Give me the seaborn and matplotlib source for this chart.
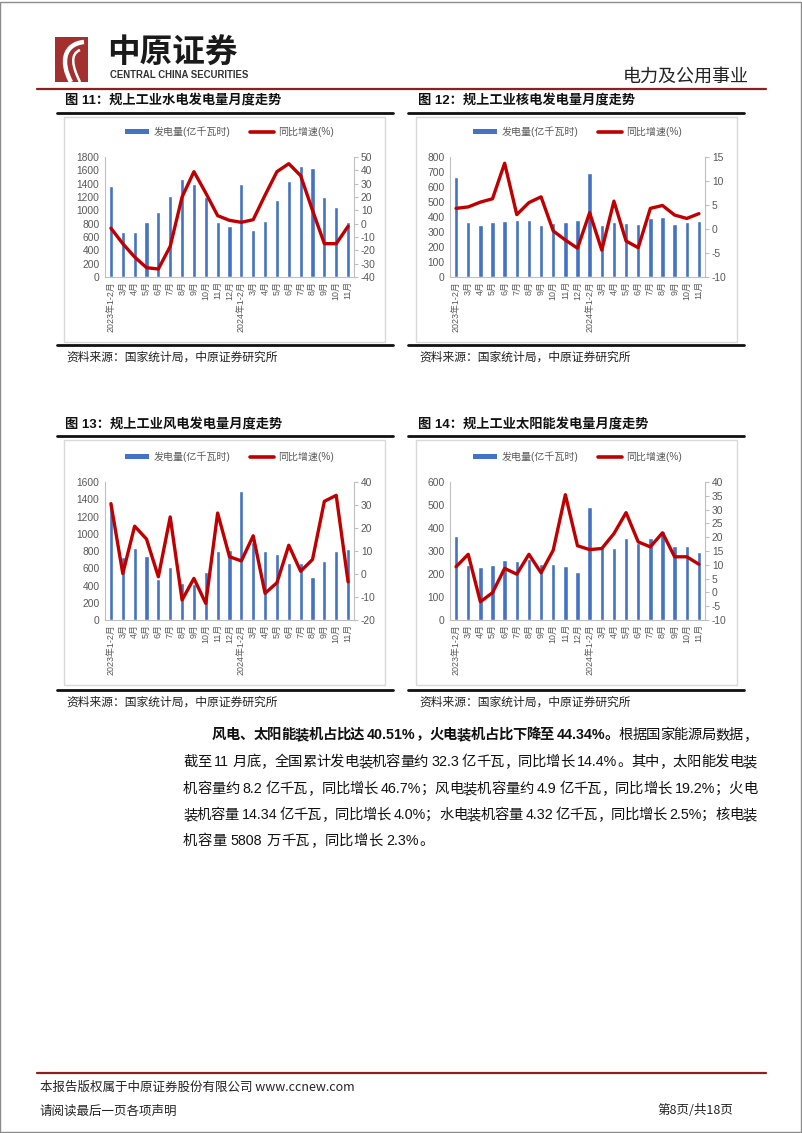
import numpy as np
import pandas as pd
import matplotlib
matplotlib.use("Agg")
import matplotlib.pyplot as plt
import seaborn as sns
from matplotlib.lines import Line2D
from matplotlib.patches import Rectangle, Patch, PathPatch
from matplotlib.path import Path

# ---------------- data ----------------
months = ["2023年1-2月", "3月", "4月", "5月", "6月", "7月", "8月", "9月", "10月", "11月", "12月",
          "2024年1-2月", "3月", "4月", "5月", "6月", "7月", "8月", "9月", "10月", "11月"]

hydro_gen = [1368, 681, 681, 821, 980, 1214, 1468, 1393, 1200, 831, 771,
             1388, 706, 836, 1149, 1438, 1667, 1637, 1199, 1050, 821]
hydro_yoy = [-3.4, -15, -25, -33, -34, -17, 20, 39, 23, 6, 2.5,
             1, 3, 21.4, 39, 45, 36, 10, -15, -15, -2]

nuclear_gen = [669, 365, 345, 367, 372, 378, 383, 345, 358, 365, 378,
               691, 349, 365, 358, 356, 394, 401, 356, 367, 376]
nuclear_yoy = [4.3, 4.6, 5.6, 6.3, 13.7, 3.0, 5.5, 6.7, -0.4, -2.3, -4.0,
               3.4, -4.4, 5.8, -2.5, -3.9, 4.3, 4.9, 2.9, 2.2, 3.2]

wind_gen = [1340, 725, 830, 741, 480, 610, 432, 420, 560, 799, 811,
            1498, 905, 803, 764, 664, 656, 502, 687, 795, 822]
wind_yoy = [30.6, 0.2, 20.8, 15.2, -1.2, 24.8, -11.3, -1.9, -12.8, 26.5, 7.5,
            5.7, 16.6, -8.4, -3.8, 12.5, 1.2, 6.3, 31.6, 34.2, -3.4]

solar_gen = [367, 241, 230, 238, 259, 257, 267, 243, 243, 233, 210,
             490, 318, 314, 358, 335, 358, 385, 322, 321, 296]
solar_yoy = [9.3, 13.8, -3.4, -0.1, 8.7, 6.6, 13.8, 7.1, 15.3, 35.4, 16.9,
             15.5, 15.9, 21.3, 28.9, 18.3, 16.5, 21.6, 12.9, 12.9, 10.2]

titles = ["图 11：规上工业水电发电量月度走势", "图 12：规上工业核电发电量月度走势",
          "图 13：规上工业风电发电量月度走势", "图 14：规上工业太阳能发电量月度走势"]
source_text = "资料来源：国家统计局，中原证券研究所"
legend_labels = ["发电量(亿千瓦时)", "同比增速(%)"]

para_lines = [
    [("风电、太阳能装机占比达 40.51%，火电装机占比下降至 44.34%。", "bold"), ("根据国家能源局数据，", "normal")],
    [("截至 11 月底，全国累计发电装机容量约 32.3 亿千瓦，同比增长 14.4%。其中，太阳能发电装", "normal")],
    [("机容量约 8.2 亿千瓦，同比增长 46.7%；风电装机容量约 4.9 亿千瓦，同比增长 19.2%；火电", "normal")],
    [("装机容量 14.34 亿千瓦，同比增长 4.0%；水电装机容量 4.32 亿千瓦，同比增长 2.5%；核电装", "normal")],
    [("机容量 5808 万千瓦，同比增长 2.3%。", "normal")],
]

# ---------------- style ----------------
sns.set_theme(style="white")
plt.rcParams["font.family"] = ["Liberation Sans", "Noto Sans CJK SC", "DejaVu Sans"]
plt.rcParams["axes.unicode_minus"] = False
BLUE = "#4472C4"
RED = "#C00000"
TICK = "#595959"
AXC = "#BFBFBF"
DARKRED = "#8E1F1F"

W, H = 802, 1133
fig = plt.figure(figsize=(W / 100, H / 100), dpi=100)


def fx(x):
    return x / W


def fy(y):
    return 1 - y / H


def hline(x0, x1, y, color, lw):
    fig.add_artist(Line2D([fx(x0), fx(x1)], [fy(y), fy(y)], color=color, lw=lw,
                          transform=fig.transFigure))


# page border
fig.add_artist(Rectangle((0.0005, 0.0005), 0.998, 0.998, fill=False, ec="#8c8c8c", lw=1.0,
                         transform=fig.transFigure))

# ---------------- header ----------------
fig.add_artist(Rectangle((fx(55), fy(82)), 33 / W, 45 / H, fc="#A3302E", ec="none",
                         transform=fig.transFigure))
verts = [(fx(84), fy(42)), (fx(64), fy(44)), (fx(60), fy(62)), (fx(71), fy(82))]
fig.add_artist(PathPatch(Path(verts, [Path.MOVETO, Path.CURVE4, Path.CURVE4, Path.CURVE4]),
                         fill=False, ec="white", lw=3.2, transform=fig.transFigure))
verts2 = [(fx(80), fy(50)), (fx(70), fy(54)), (fx(72), fy(66)), (fx(80), fy(82))]
fig.add_artist(PathPatch(Path(verts2, [Path.MOVETO, Path.CURVE4, Path.CURVE4, Path.CURVE4]),
                         fill=False, ec="white", lw=1.8, transform=fig.transFigure))

fig.text(fx(107), fy(52), "中原证券", fontsize=23.5, fontweight="heavy",
         family=["Noto Sans CJK SC"], color="#1a1a1a", va="center", ha="left")
fig.text(fx(110), fy(75.5), "CENTRAL CHINA SECURITIES", fontsize=6.9, fontweight="bold",
         family=["Liberation Sans"], color="#333333", va="center", ha="left")
fig.text(fx(749), fy(77), "电力及公用事业", fontsize=13, fontweight="light",
         family=["Noto Sans CJK SC"], color="#222222", va="center", ha="right")
hline(37, 766, 89, DARKRED, 1.6)


# ---------------- charts ----------------
def draw_chart(col, row, gen, yoy, lmax, lstep, rmin, rmax, rstep, title):
    bx0 = 64 if col == 0 else 416
    bx1 = 385 if col == 0 else 737
    lx0 = 57 if col == 0 else 408
    lx1 = 393 if col == 0 else 744
    tx = 65 if col == 0 else 418
    if row == 0:
        ty, tl, by0, by1, sl, sy = 101, 113, 117, 342, 345, 357
        py0, py1 = 157, 277
    else:
        ty, tl, by0, by1, sl, sy = 425, 436, 440, 685, 690, 702
        py0, py1 = 482, 620
    px0 = 105 if col == 0 else 450
    px1 = 354 if col == 0 else 705

    fig.text(fx(tx), fy(ty), title, fontsize=9.5, fontweight="bold", color="#111111",
             va="center", ha="left", family=["Liberation Sans", "Noto Sans CJK SC"])
    hline(lx0, lx1, tl, "#111111", 2.0)
    fig.add_artist(Rectangle((fx(bx0), fy(by1)), (bx1 - bx0) / W, (by1 - by0) / H, fill=False,
                             ec="#D9D9D9", lw=1.0, transform=fig.transFigure))
    hline(lx0, lx1, sl, "#111111", 2.0)
    fig.text(fx(tx + 1), fy(sy), source_text, fontsize=8.5, color="#222222", va="center",
             ha="left", family=["Noto Sans CJK SC"])

    ax = fig.add_axes([fx(px0), fy(py1), (px1 - px0) / W, (py1 - py0) / H])
    n = len(months)
    df = pd.DataFrame({"idx": np.arange(n), "gen": gen, "yoy": yoy})
    sns.barplot(data=df, x="idx", y="gen", ax=ax, color=BLUE, saturation=1, width=0.36,
                native_scale=True, errorbar=None)
    ax2 = ax.twinx()
    sns.lineplot(data=df, x="idx", y="yoy", ax=ax2, color=RED, lw=2.4, errorbar=None)

    for a in (ax, ax2):
        a.set_xlim(-0.5, n - 0.5)
        a.set_xlabel("")
        a.set_ylabel("")
        a.set_facecolor("none")
        for s in a.spines.values():
            s.set_visible(False)
    ax.set_ylim(0, lmax)
    ax.set_yticks(np.arange(0, lmax + 1, lstep))
    ax2.set_ylim(rmin, rmax)
    ax2.set_yticks(np.arange(rmin, rmax + 0.1, rstep))

    ax.spines["left"].set_visible(True)
    ax.spines["left"].set_color(AXC)
    ax.spines["bottom"].set_visible(True)
    ax.spines["bottom"].set_color(AXC)
    ax2.spines["right"].set_visible(True)
    ax2.spines["right"].set_color(AXC)
    for a in (ax, ax2):
        for s in a.spines.values():
            s.set_linewidth(0.8)

    ax.set_xticks(np.arange(n))
    ax.set_xticklabels(months, rotation=90, fontsize=6.4, color=TICK)
    ax.set_xticks(np.arange(-0.5, n), minor=True)
    ax.tick_params(axis="x", which="major", length=0, pad=3)
    ax.tick_params(axis="x", which="minor", length=3, color=AXC, width=0.8, direction="out")
    ax.tick_params(axis="y", which="major", length=0, labelsize=7.4, labelcolor=TICK, pad=4)
    ax2.tick_params(axis="y", which="major", length=3, color=AXC, width=0.8, direction="out",
                    labelsize=7.4, labelcolor=TICK, pad=2)
    ax.grid(False)
    ax2.grid(False)
    ax.set_zorder(1)
    ax2.set_zorder(2)

    handles = [Patch(fc=BLUE, ec="none"), Line2D([], [], color=RED, lw=2.6)]
    leg = ax.legend(handles, legend_labels, loc="center",
                    bbox_to_anchor=(0.5, 1 + 25 / (py1 - py0)), ncol=2, frameon=False,
                    fontsize=7.2, handlelength=2.4, handleheight=0.45, columnspacing=2.0,
                    handletextpad=0.4, borderaxespad=0)
    for t in leg.get_texts():
        t.set_color(TICK)
    leg.set_zorder(5)
    if ax2.get_legend() is not None:
        ax2.get_legend().remove()


draw_chart(0, 0, hydro_gen, hydro_yoy, 1800, 200, -40, 50, 10, titles[0])
draw_chart(1, 0, nuclear_gen, nuclear_yoy, 800, 100, -10, 15, 5, titles[1])
draw_chart(0, 1, wind_gen, wind_yoy, 1600, 200, -20, 40, 10, titles[2])
draw_chart(1, 1, solar_gen, solar_yoy, 600, 100, -10, 40, 5, titles[3])

# ---------------- paragraph (justified) ----------------
renderer = fig.canvas.get_renderer()
FS = 10.3
SPACE_W = 3.6  # px


def draw_line(runs, x0, x1, y, justify):
    items = []
    for txt, wt in runs:
        for ch in txt:
            items.append((ch, wt))
    tokens = []
    for ch, wt in items:
        if ch == " ":
            tokens.append((" ", wt))
        elif ch.isascii() and tokens and tokens[-1][0] != " " and tokens[-1][0][-1].isascii() \
                and tokens[-1][1] == wt:
            tokens[-1] = (tokens[-1][0] + ch, wt)
        else:
            tokens.append((ch, wt))
    arts, widths = [], []
    for tk, wt in tokens:
        if tk == " ":
            arts.append(None)
            widths.append(SPACE_W)
            continue
        t = fig.text(0, fy(y), tk, fontsize=FS, fontweight=wt, color="#111111", va="center",
                     ha="left", family=["Liberation Sans", "Noto Sans CJK SC"])
        bb = t.get_window_extent(renderer)
        arts.append(t)
        widths.append(bb.width)
    total = sum(widths)
    gaps = len(tokens) - 1
    extra = (x1 - x0 - total) / gaps if (justify and gaps > 0) else 0.3
    x = x0
    for a, w in zip(arts, widths):
        if a is not None:
            a.set_x(fx(x))
        x += w + extra


line_ys = [735, 762, 789, 815, 841]
for i, runs in enumerate(para_lines):
    xs = 212 if i == 0 else 183
    draw_line(runs, xs, 757, line_ys[i], justify=(i < len(para_lines) - 1))

# ---------------- footer ----------------
hline(37, 766, 1073, DARKRED, 1.6)
fig.text(fx(40), fy(1087), "本报告版权属于中原证券股份有限公司 www.ccnew.com", fontsize=9,
         color="#222222", va="center", ha="left", family=["Noto Sans CJK SC", "Liberation Sans"])
fig.text(fx(40), fy(1111), "请阅读最后一页各项声明", fontsize=9, color="#222222", va="center",
         ha="left", family=["Noto Sans CJK SC"])
fig.text(fx(733), fy(1111), "第8页/共18页", fontsize=9, color="#222222", va="center", ha="right",
         family=["Noto Sans CJK SC"])

fig.savefig("out.png", dpi=100)
